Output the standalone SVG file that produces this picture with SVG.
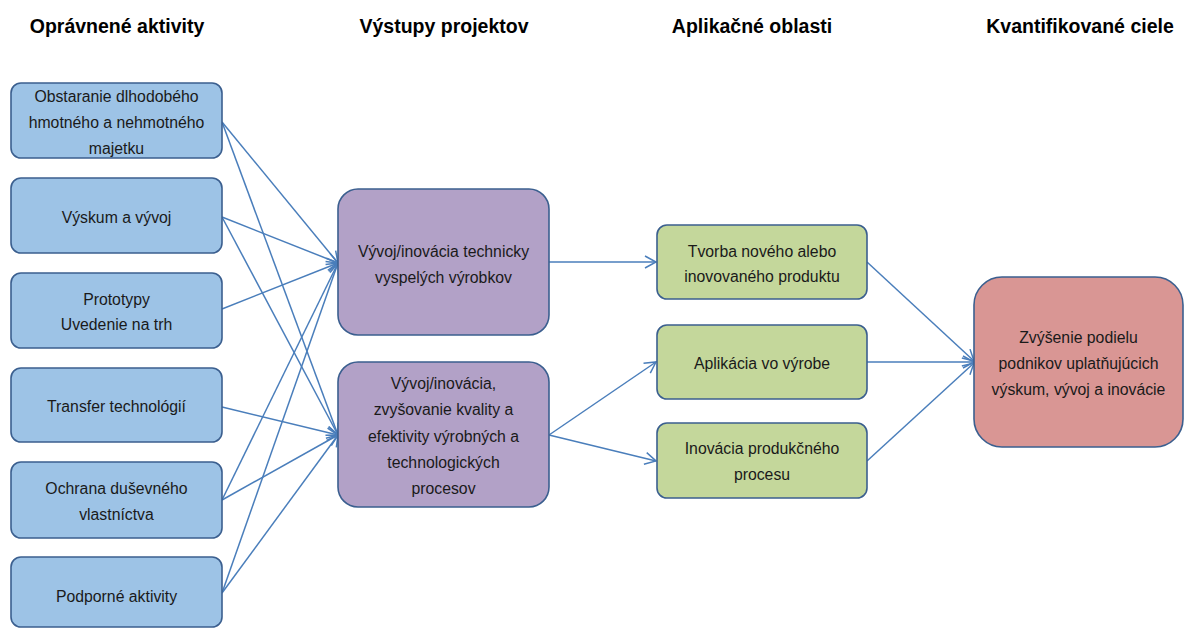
<svg xmlns="http://www.w3.org/2000/svg" width="1184" height="628" viewBox="0 0 1184 628">
<defs>
<style>
.t{font-family:"Liberation Sans",Arial,sans-serif;font-size:15.8px;fill:#1a1a1a;text-anchor:middle}
.h{font-family:"Liberation Sans",Arial,sans-serif;font-size:19.5px;font-weight:bold;fill:#000;text-anchor:middle}
.box{stroke:#3b5f8f;stroke-width:1.6}
.b{fill:#9dc3e6}
.p{fill:#b2a1c7}
.g{fill:#c4d79b}
.r{fill:#d99694}
.c{stroke:#4a7ebb;stroke-width:1.5;fill:none;marker-end:url(#ah)}
</style>
<marker id="ah" markerUnits="userSpaceOnUse" markerWidth="14" markerHeight="14" refX="12" refY="7" orient="auto" viewBox="0 0 14 14">
<path d="M1,1 L12,7 L1,13" fill="none" stroke="#4a7ebb" stroke-width="1.5"/>
</marker>
</defs>
<rect width="1184" height="628" fill="#fff"/>
<g id="headers">
<text class="h" x="117" y="33">Oprávnené aktivity</text>
<text class="h" x="444" y="33">Výstupy projektov</text>
<text class="h" x="752" y="33">Aplikačné oblasti</text>
<text class="h" x="1080" y="33">Kvantifikované ciele</text>
</g>
<g id="connectors">
<line class="c" x1="222" y1="122" x2="338" y2="263"/>
<line class="c" x1="222" y1="122" x2="338" y2="435"/>
<line class="c" x1="222" y1="217" x2="338" y2="263"/>
<line class="c" x1="222" y1="217" x2="338" y2="435"/>
<line class="c" x1="222" y1="309" x2="338" y2="263"/>
<line class="c" x1="222" y1="407" x2="338" y2="435"/>
<line class="c" x1="222" y1="500" x2="338" y2="263"/>
<line class="c" x1="222" y1="500" x2="338" y2="435"/>
<line class="c" x1="222" y1="593" x2="338" y2="263"/>
<line class="c" x1="222" y1="593" x2="338" y2="435"/>
<line class="c" x1="549" y1="262" x2="656" y2="262"/>
<line class="c" x1="549" y1="435" x2="656" y2="362"/>
<line class="c" x1="549" y1="435" x2="656" y2="461"/>
<line class="c" x1="867" y1="262" x2="974" y2="361"/>
<line class="c" x1="867" y1="362" x2="974" y2="362"/>
<line class="c" x1="867" y1="461" x2="974" y2="363"/>
</g>
<g id="a1"><rect class="box b" x="11" y="83" width="211" height="75" rx="10"/>
<text class="t" x="116.5" y="102">Obstaranie dlhodobého</text>
<text class="t" x="116.5" y="128">hmotného a nehmotného</text>
<text class="t" x="116.5" y="154">majetku</text></g>
<g id="a2"><rect class="box b" x="11" y="178" width="211" height="75" rx="10"/>
<text class="t" x="116.5" y="223">Výskum a vývoj</text></g>
<g id="a3"><rect class="box b" x="11" y="273" width="211" height="75" rx="10"/>
<text class="t" x="116.5" y="305">Prototypy</text>
<text class="t" x="116.5" y="330">Uvedenie na trh</text></g>
<g id="a4"><rect class="box b" x="11" y="368" width="211" height="74" rx="10"/>
<text class="t" x="116.5" y="412">Transfer technológií</text></g>
<g id="a5"><rect class="box b" x="11" y="462" width="211" height="76" rx="10"/>
<text class="t" x="116.5" y="494">Ochrana duševného</text>
<text class="t" x="116.5" y="520">vlastníctva</text></g>
<g id="a6"><rect class="box b" x="11" y="557" width="211" height="70" rx="10"/>
<text class="t" x="116.5" y="602">Podporné aktivity</text></g>
<g id="p1"><rect class="box p" x="338" y="189" width="211" height="146" rx="20"/>
<text class="t" x="443.5" y="257">Vývoj/inovácia technicky</text>
<text class="t" x="443.5" y="283">vyspelých výrobkov</text></g>
<g id="p2"><rect class="box p" x="338" y="362" width="211" height="145" rx="20"/>
<text class="t" x="443.5" y="389">Vývoj/inovácia,</text>
<text class="t" x="443.5" y="415">zvyšovanie kvality a</text>
<text class="t" x="443.5" y="442">efektivity výrobných a</text>
<text class="t" x="443.5" y="468">technologických</text>
<text class="t" x="443.5" y="494">procesov</text></g>
<g id="g1"><rect class="box g" x="657" y="225" width="210" height="74" rx="10"/>
<text class="t" x="762" y="257">Tvorba nového alebo</text>
<text class="t" x="762" y="282">inovovaného produktu</text></g>
<g id="g2"><rect class="box g" x="657" y="325" width="210" height="74" rx="10"/>
<text class="t" x="762" y="369">Aplikácia vo výrobe</text></g>
<g id="g3"><rect class="box g" x="657" y="423" width="210" height="75" rx="10"/>
<text class="t" x="762" y="454">Inovácia produkčného</text>
<text class="t" x="762" y="480">procesu</text></g>
<g id="goal"><rect class="box r" x="974" y="277" width="209" height="170" rx="28"/>
<text class="t" x="1078.5" y="343">Zvýšenie podielu</text>
<text class="t" x="1078.5" y="369">podnikov uplatňujúcich</text>
<text class="t" x="1078.5" y="395">výskum, vývoj a inovácie</text></g>
</svg>
